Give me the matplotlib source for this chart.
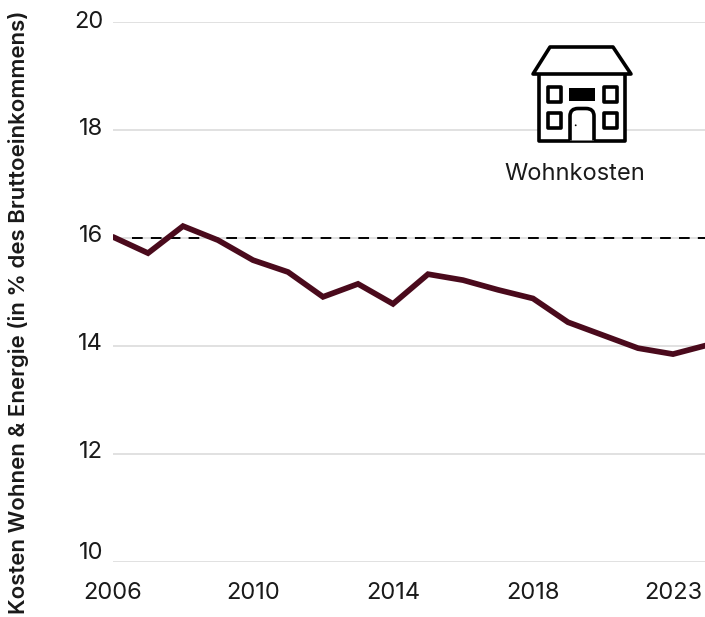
import matplotlib
matplotlib.use('Agg')
import matplotlib.pyplot as plt
from matplotlib.patches import PathPatch, Polygon, Rectangle, Circle
from matplotlib.path import Path

plt.rcParams['font.family'] = ['Inter', 'DejaVu Sans']

years = list(range(2006, 2024))
costs = [16.02, 15.72, 16.22, 15.96, 15.59, 15.37, 14.91, 15.15, 14.78,
         15.33, 15.22, 15.04, 14.88, 14.44, 14.20, 13.96, 13.85, 14.02]
y_ticks = [10, 12, 14, 16, 18, 20]
x_tick_pos = [2006, 2010, 2014, 2018, 2022]
x_tick_labels = ['2006', '2010', '2014', '2018', '2023']
reference_level = 16
y_label = 'Kosten Wohnen & Energie (in % des Bruttoeinkommens)'
icon_label = 'Wohnkosten'

W, H = 705, 617
line_color = '#4a0a1c'
text_color = '#1a1a1a'
grid_color = '#d9d9d9'

fig = plt.figure(figsize=(W / 100, H / 100), dpi=100)
ax = fig.add_axes([113 / W, 1 - 562 / H, (W - 113) / W, 540 / H])
ax.set_xlim(2006, 2006 + (W - 113) / 35)
ax.set_ylim(10, 20)

for s in ax.spines.values():
    s.set_visible(False)
ax.set_xticks(x_tick_pos)
ax.set_xticklabels(x_tick_labels)
ax.set_yticks([])
ax.tick_params(axis='x', length=0, labelsize=17, labelcolor=text_color, pad=14.5)
for v in y_ticks:
    ax.axhline(v, color=grid_color, lw=1.1, zorder=1)

ax.plot([2006.55, 2023], [reference_level, reference_level], color='black',
        lw=1.4, dashes=(5.5, 4.2), zorder=2)
ax.plot(years, costs, color=line_color, lw=4.1, solid_joinstyle='miter',
        solid_capstyle='round', zorder=3)

# overlay in pixel coordinates: tick labels of the y axis, house icon, axis title
icon = fig.add_axes([0, 0, 1, 1], facecolor='none')
icon.set_xlim(0, W)
icon.set_ylim(H, 0)
icon.axis('off')

y_label_px = [553, 452, 344, 236, 129, 22]
for v, py in zip(y_ticks, y_label_px):
    icon.text(103, py, str(v), ha='right', va='center', fontsize=17, color=text_color)

lw = 2.6
style = dict(fc='white', ec='black', lw=lw, joinstyle='round')
icon.add_patch(Rectangle((539, 73), 86, 67.5, **style))
icon.add_patch(Polygon([(550, 47), (613, 47), (631, 74), (533, 74)], **style))
for x0 in (547.5, 603.5):
    for y0 in (87, 113):
        icon.add_patch(Rectangle((x0, y0), 13, 14.5, **style))
icon.add_patch(Rectangle((569, 87.5), 26, 13.5, fc='black', ec='none'))
door = Path([(570, 140.5), (570, 116), (570, 108.5), (578, 108.5), (586, 108.5),
             (594, 108.5), (594, 116), (594, 140.5)],
            [Path.MOVETO, Path.LINETO, Path.CURVE3, Path.CURVE3, Path.LINETO,
             Path.CURVE3, Path.CURVE3, Path.LINETO])
icon.add_patch(PathPatch(door, **style))
icon.add_patch(Circle((575.7, 125.3), 0.9, fc='black', ec='none'))
icon.text(575, 173.5, icon_label, ha='center', va='center', fontsize=17, color=text_color)

icon.text(19, 312, y_label, rotation=90, ha='center', va='center',
          fontsize=16, fontweight='semibold', color=text_color)

fig.savefig('out.png', dpi=100)
